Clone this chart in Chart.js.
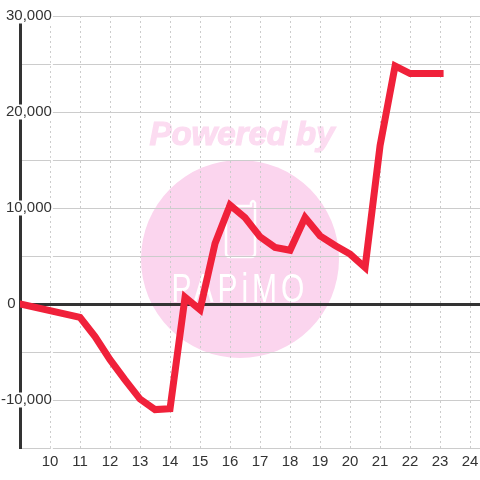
<!DOCTYPE html>
<html>
<head>
<meta charset="utf-8">
<script src="https://cdn.jsdelivr.net/npm/chart.js@4"></script>
<style>
  html, body { margin: 0; padding: 0; background: #fff; }
  canvas { display: block; }
</style>
</head>
<body>
<canvas id="grafico" width="480" height="480"></canvas>
<script>
const hours = [9, 11, 11.5, 12, 12.5, 13, 13.5, 14, 14.5, 15, 15.5, 16, 16.5, 17, 17.5, 18, 18.5, 19, 19.5, 20, 20.5, 21, 21.5, 22, 22.5, 23];
const values = [0, -1400, -3400, -5800, -7900, -9900, -11000, -10900, 700, -600, 6300, 10300, 9000, 7000, 5900, 5600, 9000, 7100, 6100, 5200, 3800, 16500, 24800, 24000, 24000, 24000];
const labelledHours = [10, 11, 12, 13, 14, 15, 16, 17, 18, 19, 20, 21, 22, 23, 24];
const labelledValues = [-10000, 0, 10000, 20000, 30000];

// watermark behind the grid
const watermark = {
  id: 'watermark',
  beforeDraw(chart) {
    const c = chart.ctx;
    c.save();
    c.fillStyle = '#fbd5ee';
    c.beginPath();
    c.arc(240, 259, 99, 0, Math.PI * 2);
    c.fill();

    c.fillStyle = '#fcdcf1';
    c.strokeStyle = '#fcdcf1';
    c.lineWidth = 1.2;
    c.font = 'italic bold 33px "Liberation Sans"';
    c.textAlign = 'center';
    c.textBaseline = 'alphabetic';
    c.fillText('Powered by', 242, 145);
    c.strokeText('Powered by', 242, 145);

    // phone icon
    c.strokeStyle = '#fff';
    c.lineWidth = 2.5;
    c.lineJoin = 'round';
    c.beginPath();
    c.moveTo(226, 206);
    c.lineTo(226, 253);
    c.quadraticCurveTo(226, 257, 230, 257);
    c.lineTo(251, 257);
    c.quadraticCurveTo(255, 257, 255, 253);
    c.lineTo(255, 203);
    c.quadraticCurveTo(253, 199, 251, 203);
    c.lineTo(251, 206);
    c.lineTo(226, 206);
    c.stroke();

    // tall thin logo letters
    c.translate(240, 302);
    c.scale(1, 1.33);
    c.fillStyle = '#fff';
    c.font = '30px "Liberation Sans"';
    c.letterSpacing = '4px';
    c.fillText('PAPiMO', 0, 0);
    c.restore();
  }
};

new Chart(document.getElementById('grafico'), {
  type: 'line',
  plugins: [watermark],
  data: {
    datasets: [{
      data: hours.map((h, i) => ({ x: h, y: values[i] })),
      borderColor: '#f0213a',
      borderWidth: 7,
      pointRadius: 0,
      tension: 0,
      borderJoinStyle: 'miter',
      borderCapStyle: 'square'
    }]
  },
  options: {
    responsive: false,
    animation: false,
    layout: { padding: { left: 0, top: 16, right: 0, bottom: 0 } },
    plugins: { legend: { display: false }, tooltip: { enabled: false } },
    scales: {
      x: {
        type: 'linear',
        min: 9,
        max: 24.33,
        afterFit: s => { s.height = 32; s.paddingLeft = 0; s.paddingRight = 0; },
        border: { display: false, dash: [2, 3] },
        grid: { color: '#ccc', lineWidth: 1, drawTicks: false },
        ticks: {
          stepSize: 1,
          includeBounds: false,
          autoSkip: false,
          maxRotation: 0,
          padding: 6,
          color: '#333',
          font: { family: '"Liberation Sans"', size: 15, lineHeight: 1 },
          callback: v => labelledHours.includes(v) ? String(v) : ''
        }
      },
      y: {
        min: -15000,
        max: 30000,
        afterFit: s => { s.width = 20; },
        border: { display: true, color: '#333', width: 3 },
        grid: {
          drawTicks: false,
          color: ctx => ctx.tick.value === 0 ? '#333' : '#ccc',
          lineWidth: ctx => ctx.tick.value === 0 ? 3 : 1
        },
        ticks: {
          stepSize: 5000,
          includeBounds: false,
          autoSkip: false,
          mirror: true,
          crossAlign: 'far',
          padding: -19,
          color: '#333',
          showLabelBackdrop: ctx => ctx.tick.value !== 0,
          backdropColor: '#fff',
          backdropPadding: { x: 1, y: 0 },
          font: { family: '"Liberation Sans"', size: 15, lineHeight: 1 },
          // the zero label sits further left than the others, left of the axis
          callback: v => {
            if (v === 0) return '0' + ' '.repeat(8) + '\u2009';
            return labelledValues.includes(v) ? v.toLocaleString('en-US') : '';
          }
        }
      }
    }
  }
});
</script>
</body>
</html>
